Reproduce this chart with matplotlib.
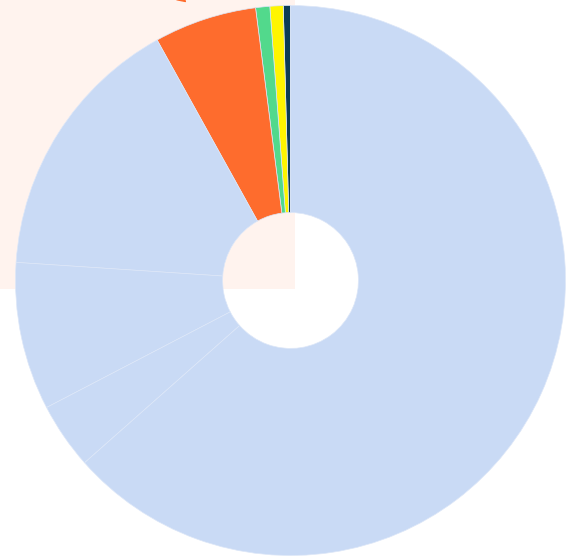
import matplotlib
matplotlib.use('Agg')
import matplotlib.pyplot as plt
from matplotlib.patches import Rectangle

# slice shares (percent), listed counter-clockwise from 12 o'clock
shares = [0.42, 0.78, 0.83, 6.03, 15.89, 8.69, 3.89, 63.47]
colors = ['#0c3b55', '#fff500', '#52d98c', '#fe6c2d',
          '#c9daf5', '#c9daf5', '#c9daf5', '#c9daf5']

W, H = 576, 557
cx, cy, r_px = 290.5, 280.5, 275.0

fig = plt.figure(figsize=(W / 100, H / 100), dpi=100)
ax = fig.add_axes([0, 0, 1, 1])

# peach panel behind the top-left quarter
ax.add_patch(Rectangle((0, 1 - 289 / H), 295 / W, 289 / H,
                       transform=ax.transAxes, facecolor='#fff3ee',
                       edgecolor='none', zorder=0))

wedges, _ = ax.pie(shares, colors=colors, startangle=90, counterclock=True,
                   radius=1.0, frame=True,
                   wedgeprops=dict(width=0.753, edgecolor='#dde7f8', linewidth=0.5))
for w in wedges:
    w.set_zorder(2)
ax.set_axis_off()
ax.set_xlim(-cx / r_px, (W - cx) / r_px)
ax.set_ylim(-(H - cy) / r_px, cy / r_px)
ax.set_aspect('auto')

# pointer arrow for the orange slice, mostly running off the top edge
ax.annotate('', xy=(-0.37, 1.005), xytext=(-0.62, 1.2),
            arrowprops=dict(arrowstyle='-|>', color='#fe6c2d', lw=1.0,
                            mutation_scale=14), zorder=1)

fig.savefig('out.png', dpi=100)
